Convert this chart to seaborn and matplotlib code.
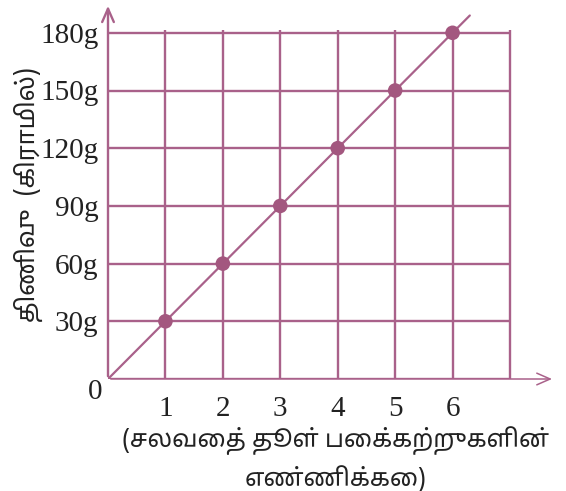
import matplotlib
matplotlib.use("Agg")
import matplotlib.pyplot as plt
import seaborn as sns
import pandas as pd
from matplotlib import font_manager

sns.set_theme(style="white")

# ---- data ----
packets = [1, 2, 3, 4, 5, 6]
mass_g = [30, 60, 90, 120, 150, 180]
ytick_labels = ["30g", "60g", "90g", "120g", "150g", "180g"]
xtick_labels = ["1", "2", "3", "4", "5", "6"]
line_x = [0, 6.3]
line_y = [0, 189]
grid_x = [1, 2, 3, 4, 5, 6, 7]
grid_y = [30, 60, 90, 120, 150, 180]
xlabel = "(சலவைத் தூள் பைக்கற்றுகளின்\nஎண்ணிக்கை)"
ylabel = "திணிவு  (கிராமில்)"

COL = "#A9618A"
PCOL = "#A3577F"
TXT = "#222222"

installed = {f.name for f in font_manager.fontManager.ttflist}
tamil_fams = [f for f in ["Noto Sans Tamil", "Noto Serif Tamil", "Lohit Tamil", "Latha", "FreeSerif"] if f in installed]
serif = ["Liberation Serif", "DejaVu Serif"]
tfam = tamil_fams + ["Liberation Serif", "DejaVu Sans"]

fig = plt.figure(figsize=(5.66, 4.91), dpi=100)
W, H = 566, 491
x0, y0 = 108, 379
ux = 57.43
uy = 57.7 / 30
xmax, ymax = 7.8, 196
ax = fig.add_axes([x0 / W, (H - y0) / H, xmax * ux / W, ymax * uy / H])
ax.set_xlim(0, xmax)
ax.set_ylim(0, ymax)
for s in ax.spines.values():
    s.set_visible(False)

# grid
ax.vlines(grid_x, 0, 181.5, color=COL, lw=1.7, zorder=1)
ax.hlines(grid_y, 0, 7, color=COL, lw=1.7, zorder=1)
ax.hlines([0], 0, 7, color=COL, lw=1.7, zorder=1)

# axes with arrows
ax.annotate("", xy=(xmax - 0.02, 0), xytext=(0, 0),
            arrowprops=dict(arrowstyle="->,head_length=0.8,head_width=0.35", color=COL, lw=1.1),
            zorder=2)
ax.annotate("", xy=(0, ymax - 0.5), xytext=(0, 0),
            arrowprops=dict(arrowstyle="->,head_length=0.8,head_width=0.35", color=COL, lw=1.7),
            zorder=2)

# line and points
df_line = pd.DataFrame({"x": line_x, "y": line_y})
sns.lineplot(data=df_line, x="x", y="y", ax=ax, color=COL, lw=1.6, zorder=3)
df = pd.DataFrame({"packets": packets, "mass": mass_g})
sns.scatterplot(data=df, x="packets", y="mass", ax=ax, color=PCOL, s=110,
                edgecolor="none", zorder=4)

ax.set_xlabel("")
ax.set_ylabel("")
ax.set_xticks(packets)
ax.set_xticklabels(xtick_labels, family=serif, fontsize=21, color=TXT)
ax.set_yticks(grid_y)
ax.set_yticklabels(ytick_labels, family=serif, fontsize=21, color=TXT)
ax.tick_params(axis="both", length=0)
ax.tick_params(axis="x", pad=12)
ax.tick_params(axis="y", pad=7)

fig.text(95 / W, 1 - 392 / H, "0", family=serif, fontsize=21, color=TXT,
         ha="center", va="center")
fig.text(336 / W, 1 - 459 / H, xlabel, family=tfam, fontsize=17.5, color=TXT,
         ha="center", va="center", linespacing=1.5)
fig.text(28 / W, 1 - 195 / H, ylabel, family=tfam, fontsize=18, color=TXT,
         ha="center", va="center", rotation=90)

fig.savefig("out.png", dpi=100)
